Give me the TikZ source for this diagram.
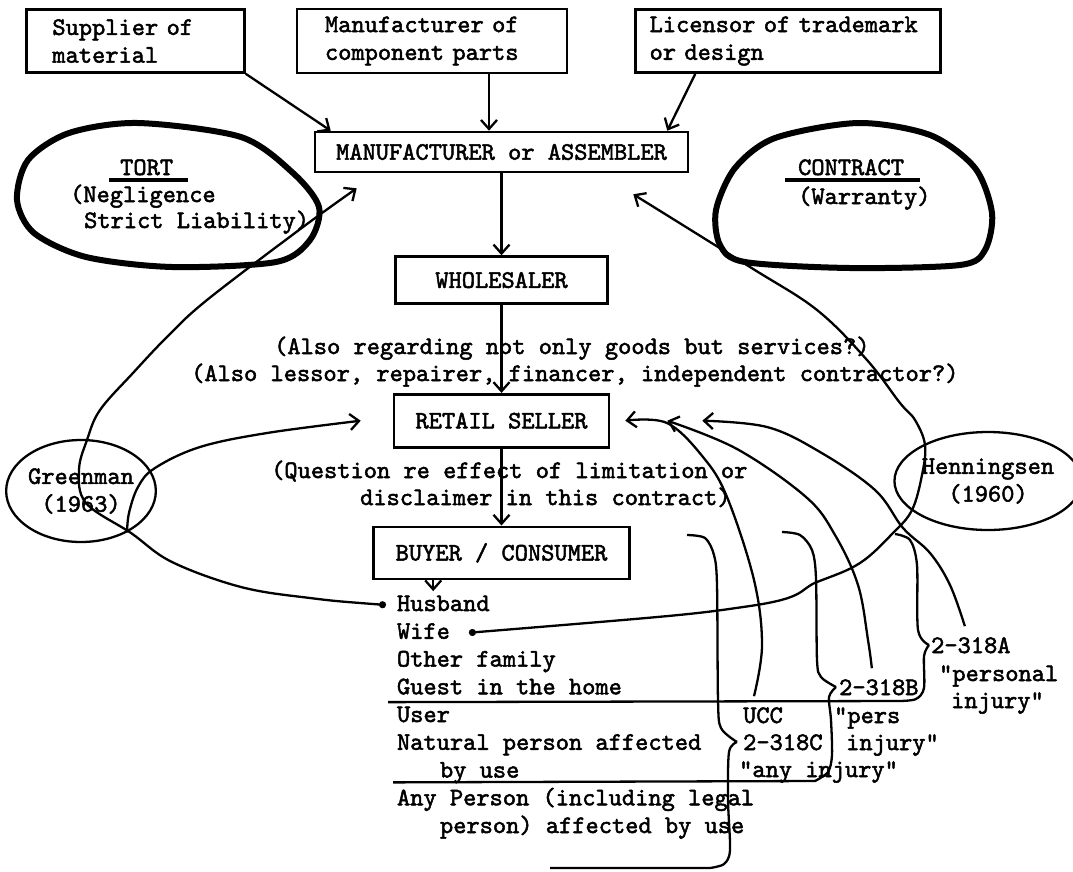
\documentclass[tikz,border=0pt]{standalone}
\usepackage{tikz}
\usepackage{fontspec}
\newfontfamily\twfont{lmmono10-regular.otf}[FakeBold=2]
\usetikzlibrary{positioning}
\usetikzlibrary{arrows.meta}
\usetikzlibrary{shapes.geometric}

\begin{document}
\begin{tikzpicture}[x=1pt, y=-1pt, line width=2.3pt,
    >={Straight Barb[length=9pt,width=16pt]},
    tw/.style={font=\twfont\fontsize{25.2}{27.75}\selectfont},
    party/.style={tw, draw, line width=2.6pt},
    item/.style={tw, anchor=base west, inner xsep=0pt, inner ysep=1.875pt, outer sep=0pt, text height=18pt, text depth=6pt},
    lbl/.style={tw, anchor=base west, inner sep=0pt},
    case/.style={tw, draw, ellipse, inner sep=0pt, align=center}]
    \useasboundingbox (0,0) rectangle (1073,871);
    % set up the nodes
    \node[party, text width=214pt, inner xsep=28pt, minimum height=64pt, align=left] (comp) at (432,41) {Manufacturer of\\component parts};
    \node[party, text width=166pt, inner xsep=26pt, minimum height=63pt, align=left, left=50pt of comp] (sup) {Supplier of\\material};
    \node[party, text width=277pt, inner xsep=14pt, minimum height=63pt, align=left, right=66pt of comp] (lic) {Licensor of trademark\\or design};
    \node[party, minimum width=373pt, minimum height=40pt] (ma) at (501.5,152) {MANUFACTURER or ASSEMBLER};
    \node[party, minimum width=212pt, minimum height=47pt, below=82pt of ma] (whole) {WHOLESALER};
    \node[party, minimum width=215pt, minimum height=53pt, below=88pt of whole] (retail) {RETAIL SELLER};
    \node[party, minimum width=256pt, minimum height=52pt, below=77pt of retail] (buyer) {BUYER / CONSUMER};
    \node[lbl] (alsoa) at (273,354) {(Also regarding not only goods but services?)};
    \node[lbl] (alsob) at (190,381) {(Also lessor, repairer, financer, independent contractor?)};
    \node[lbl] (quest) at (270,478) {(Question re effect of limitation or};
    \node[lbl] (discl) at (359,505) {disclaimer in this contract)};
    % the persons below the buyer
    \node[item] (husband) at (397,611) {Husband};
    \node[item, below=0pt of husband.south west, anchor=north west] (wife) {Wife};
    \node[item, below=0pt of wife.south west, anchor=north west] (family) {Other family};
    \node[item, below=0pt of family.south west, anchor=north west] (guest) {Guest in the home};
    \node[item, below=0pt of guest.south west, anchor=north west] (user) {User};
    \node[item, below=0pt of user.south west, anchor=north west] (natural) {Natural person affected};
    \node[item, below=0pt of natural.south west, anchor=north west, xshift=43pt] (byuse) {by use};
    \node[item, below=0pt of byuse.south west, anchor=north west, xshift=-43pt] (anyperson) {Any Person (including legal};
    \node[item, below=0pt of anyperson.south west, anchor=north west, xshift=43pt] (legal) {person) affected by use};
    % UCC sections
    \node[lbl] (a318) at (930,653) {2-318A};
    \node[lbl] (apers) at (938,681) {"personal};
    \node[lbl] (ainj) at (950,708) {injury"};
    \node[lbl] (b318) at (838,695) {2-318B};
    \node[lbl] (bpers) at (833,723) {"pers};
    \node[lbl] (binj) at (845,750) {injury"};
    \node[lbl] (ucc) at (742,723) {UCC};
    \node[lbl] (c318) at (742,750) {2-318C};
    \node[lbl] (cany) at (738,777) {"any injury"};
    % tort and contract
    \node[lbl] (tort) at (119,175) {TORT};
    \node[lbl] (negl) at (69,202) {(Negligence};
    \node[lbl] (strict) at (83,228) {Strict Liability)};
    \node[lbl] (contract) at (797,175) {CONTRACT};
    \node[lbl] (warranty) at (797,204) {(Warranty)};
    \draw[line width=4pt] ([xshift=-10pt,yshift=-5pt]tort.base west) -- ([xshift=14pt,yshift=-5pt]tort.base east);
    \draw[line width=4pt] ([xshift=-12pt,yshift=-5pt]contract.base west) -- ([xshift=15pt,yshift=-5pt]contract.base east);
    \draw[line width=6pt] plot[smooth cycle] coordinates {(138,123) (241,137) (293,173) (319,207) (310,240) (276,262) (172,267) (86,257) (34,233) (17,200) (28,160) (69,133)};
    \draw[line width=6pt] plot[smooth cycle] coordinates {(858,123) (930,135) (975,168) (992,213) (985,250) (960,265) (850,268) (745,262) (720,245) (716,210) (735,168) (775,138)};
    \node[case, minimum width=148pt, minimum height=102pt] (greenman) at (81,491) {Greenman\\(1963)};
    \node[case, minimum width=172pt, minimum height=98pt] (henningsen) at (988,481) {Henningsen\\(1960)};
    % draw arrows between them
    \draw[->] (sup.south east) -- ([xshift=17pt]ma.north west);
    \draw[->] ([xshift=57pt]comp.south) -- ([xshift=57pt]comp.south |- ma.north);
    \draw[->] ([xshift=61pt]lic.south west) -- ([xshift=-22pt]ma.north east);
    \draw[->] (ma) edge (whole);
    \draw[->] (whole) edge (retail);
    \draw[->] (retail) edge (buyer);
    \draw[->] ([xshift=61pt]buyer.south west) -- ([xshift=61pt]buyer.south west |- husband.north);
    % the cases
    \draw[{Circle[length=7pt]}->] plot[smooth, tension=0.6] coordinates {([xshift=-11pt]husband.west) (310,598) (241,587) (172,562) (131,533) (86,503) (79,470) (87,440) (100,410) (133,373) (167,337) (207,300) (303,227) ([xshift=43pt,yshift=-15pt]ma.south west)};
    \draw[->] plot[smooth, tension=0.6] coordinates {(greenman.-42) (129,513) (138,487) (155,468) (200,447) (267,433) ([xshift=-32pt]retail.west)};
    \draw[{Circle[length=7pt]}->] plot[smooth, tension=0.6] coordinates {([xshift=19pt]wife.east) (750,606) (817,582) (860,563) (893,533) (912,510) (922,475) (925,445) (915,420) (900,403) (867,360) (817,310) (750,267) ([xshift=-56pt,yshift=-21pt]ma.south east)};
    % UCC back to the retail seller
    \draw[->] plot[smooth, tension=0.6] coordinates {([xshift=-9pt,yshift=10pt]ucc.north) (762,645) (754,580) (727,497) (703,457) (667,423) ([xshift=15pt]retail.east)};
    \draw[->] plot[smooth, tension=0.6] coordinates {([xshift=-7pt,yshift=10pt]b318.north) (868,640) (858,585) (835,535) (806,497) (737,449) ([xshift=57pt]retail.east)};
    \draw[->] plot[smooth, tension=0.6] coordinates {([xshift=-6pt,yshift=10pt]a318.north) (950,585) (930,553) (903,528) (875,490) (820,452) (767,427) ([xshift=92pt]retail.east)};
    % braces
    \draw plot[smooth] coordinates {(895,534) (910,540) (917,565) (918,630) (929,645)};
    \draw plot[smooth] coordinates {(929,645) (924,656) (924,688) (916,699) (900,701)} -- ([xshift=-9pt]guest.south west);
    \draw plot[smooth] coordinates {(782,532) (800,535) (812,550) (816,578) (817,660) (821,677) (836,687)};
    \draw plot[smooth] coordinates {(836,687) (829,697) (831,720) (832,755) (828,772) (815,781)} -- ([xshift=-47pt,yshift=3pt]byuse.south west);
    \draw plot[smooth] coordinates {(687,535) (705,538) (714,555) (717,585) (718,700) (721,728) (737,742)};
    \draw plot[smooth] coordinates {(737,742) (729,752) (728,800) (730,850) (724,864) (710,868)} -- (550,868);
\end{tikzpicture}
\end{document}
